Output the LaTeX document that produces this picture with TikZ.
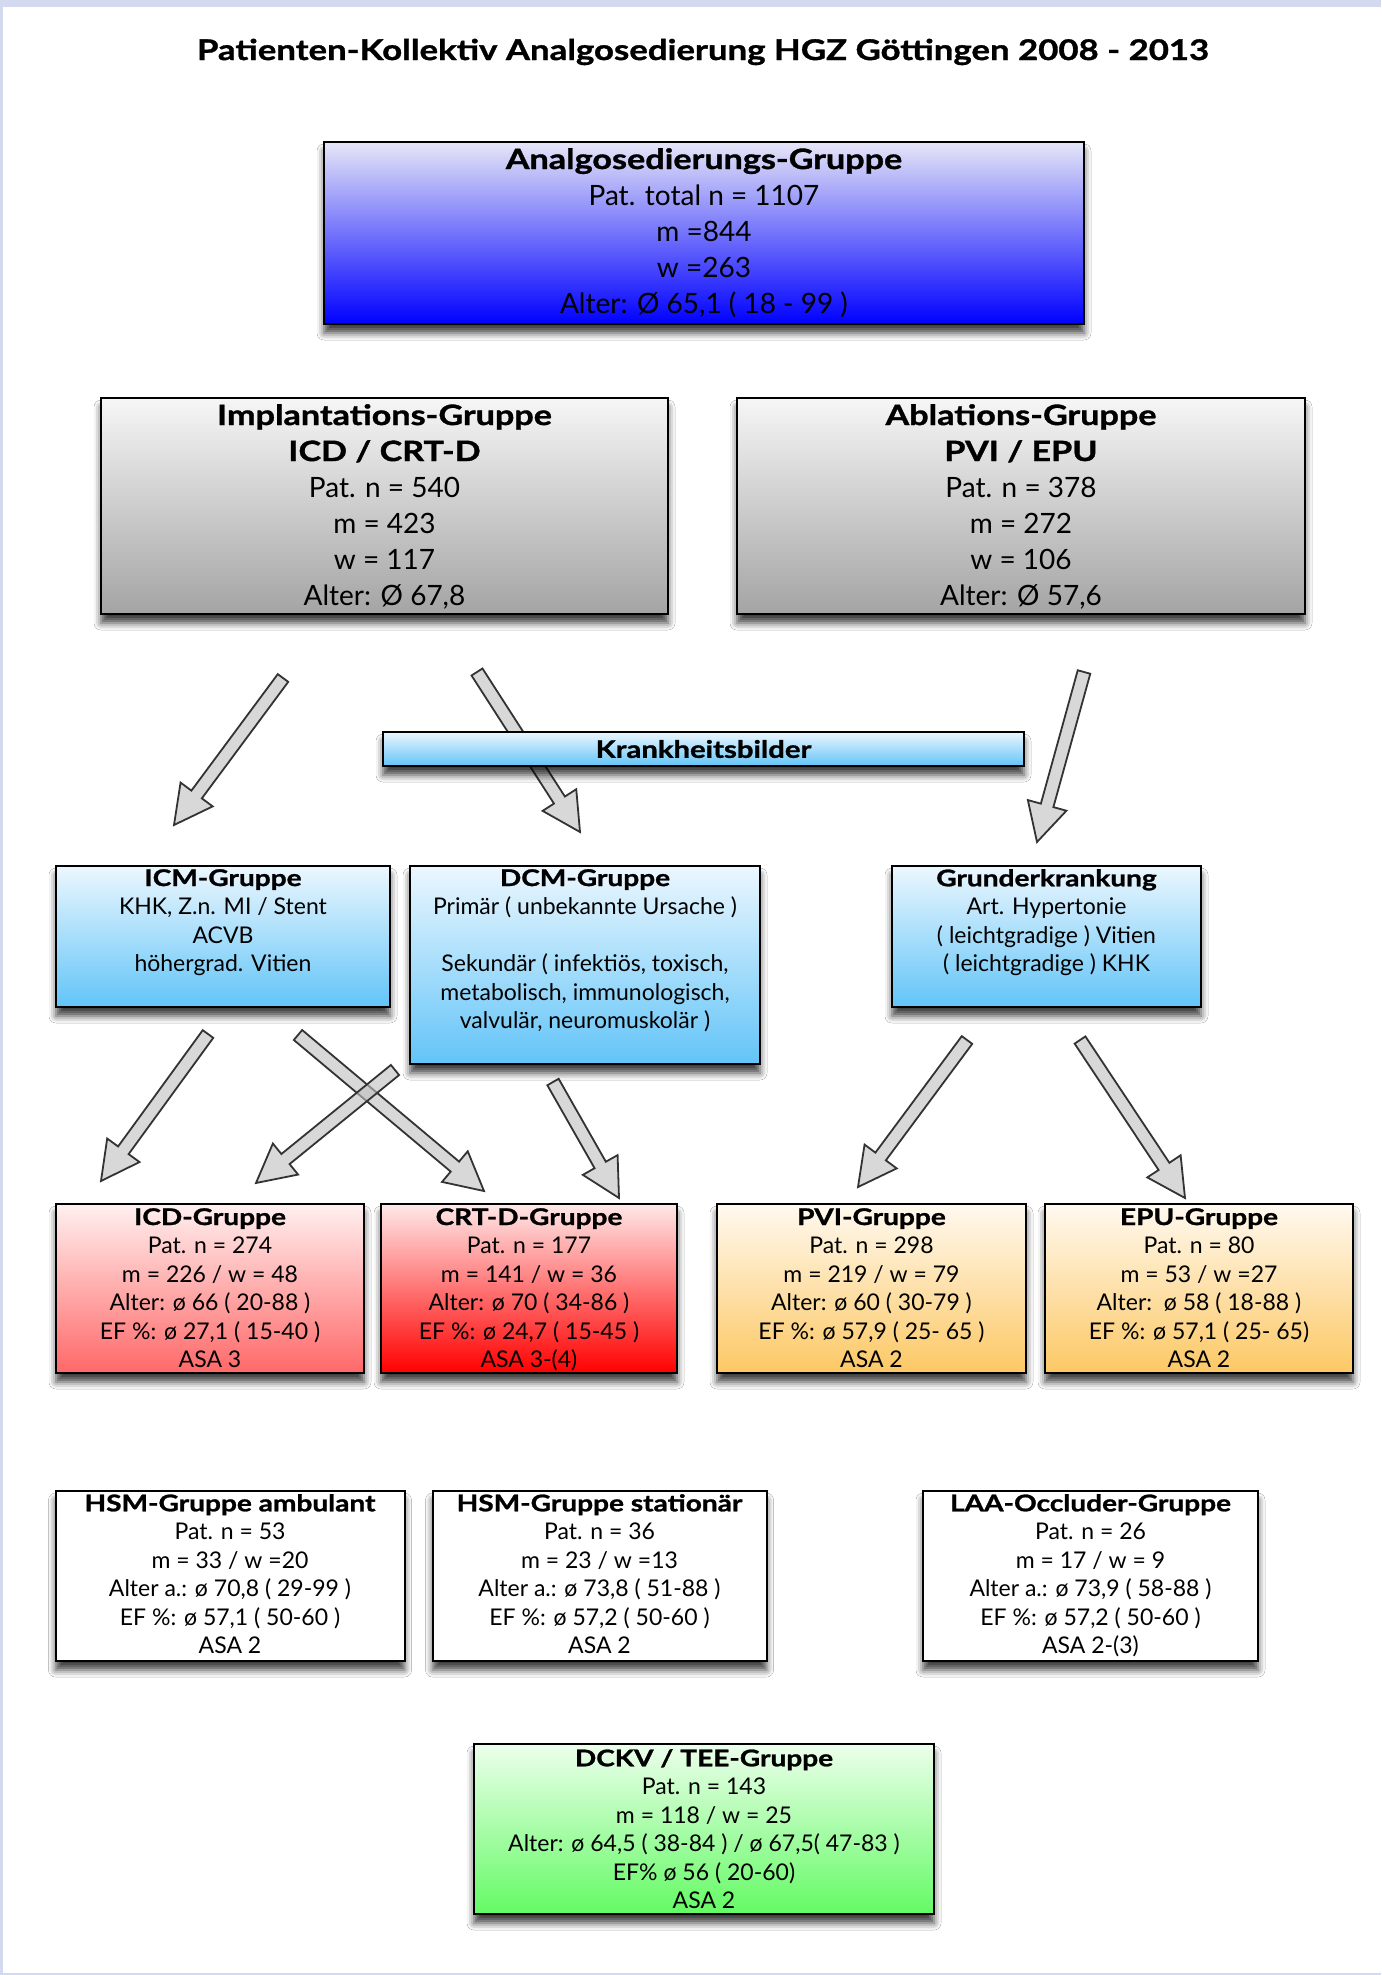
\documentclass[tikz,border=0pt]{standalone}
\usepackage{fontspec}
\setmainfont{Lato}
\newfontfamily\hb[FakeStretch=1.22, BoldFeatures={FakeBold=1.2}]{Lato}
\usetikzlibrary{calc,shadows.blur}

\definecolor{pageframe}{RGB}{211,217,239}
\definecolor{aTop}{RGB}{230,230,248}
\definecolor{aBot}{RGB}{0,0,255}
\definecolor{gTop}{RGB}{246,246,246}
\definecolor{gBot}{RGB}{164,164,164}
\definecolor{bTop}{RGB}{236,247,254}
\definecolor{bBot}{RGB}{98,196,248}
\definecolor{rTop}{RGB}{255,240,240}
\definecolor{rBot}{RGB}{255,104,104}
\definecolor{crTop}{RGB}{255,232,232}
\definecolor{crBot}{RGB}{255,0,0}
\definecolor{oTop}{RGB}{255,249,240}
\definecolor{oBot}{RGB}{252,200,100}
\definecolor{grTop}{RGB}{236,255,236}
\definecolor{grBot}{RGB}{100,250,100}

\newcommand{\bt}[1]{{\hb\bfseries #1}}
\newcommand{\blockarrow}[2]{%
  \coordinate (ahead) at ($(#2)!38pt!(#1)$);
  \draw[barrow] ($(#1)!6.5pt!90:(#2)$) -- ($(ahead)!6.5pt!90:(#2)$) -- ($(ahead)!20pt!90:(#2)$) -- (#2)
     -- ($(ahead)!20pt!-90:(#2)$) -- ($(ahead)!6.5pt!-90:(#2)$) -- ($(#1)!6.5pt!-90:(#2)$) -- cycle;}

\tikzset{
  box/.style={draw=black, line width=2pt, inner sep=0pt,
    blur shadow={shadow xshift=0pt, shadow yshift=-9pt, shadow blur radius=7pt, shadow opacity=75}},
  txt/.style={anchor=north, align=center, inner sep=0pt},
  big/.style={font=\fontsize{28}{36}\selectfont},
  small/.style={font=\fontsize{23}{28.5}\selectfont},
  barrow/.style={draw=black!80, line width=1.8pt, fill=black!25, fill opacity=0.6, line join=miter},
}

\begin{document}
\begin{tikzpicture}[x=1pt,y=-1pt]
\useasboundingbox (0,0) rectangle (1381,1975);
\fill[pageframe] (0,0) rectangle (1381,1975);
\fill[white] (3,7) rectangle (1381,1973);

% title
\node[inner sep=0pt, font=\hb\bfseries\fontsize{28.5}{34}\selectfont] (title) at (703,52)
  {Patienten-Kollektiv Analgosedierung HGZ Göttingen 2008 - 2013};

% arrow end points
\coordinate (a1s) at (283,678);  \coordinate (a1e) at (174,825);
\coordinate (a2s) at (477,672);  \coordinate (a2e) at (580,832);
\coordinate (a3s) at (1084,672); \coordinate (a3e) at (1037,842);
\coordinate (a4s) at (208,1034); \coordinate (a4e) at (101,1181);
\coordinate (a5s) at (298,1035); \coordinate (a5e) at (484,1191);
\coordinate (a6s) at (395,1070); \coordinate (a6e) at (256,1183);
\coordinate (a7s) at (553,1082); \coordinate (a7e) at (619,1198);
\coordinate (a8s) at (967,1040); \coordinate (a8e) at (858,1187);
\coordinate (a9s) at (1080,1040);\coordinate (a9e) at (1185,1198);
\blockarrow{a1s}{a1e}
\blockarrow{a2s}{a2e}
\blockarrow{a3s}{a3e}
\blockarrow{a4s}{a4e}
\blockarrow{a5s}{a5e}
\blockarrow{a6s}{a6e}
\blockarrow{a7s}{a7e}
\blockarrow{a8s}{a8e}
\blockarrow{a9s}{a9e}

% top box
\node[box, top color=aTop, bottom color=aBot, minimum width=760pt, minimum height=182pt] (A) at (704,233) {};
\node[txt, big] (tA) at ($(A.north)+(0,7)$)
  {\bt{Analgosedierungs-Gruppe}\\Pat. total n = 1107\\m =844\\w =263\\Alter: Ø 65,1 ( 18 - 99 )};

% second row
\node[box, top color=gTop, bottom color=gBot, minimum width=567pt, minimum height=216pt] (impl) at (384.5,506) {};
\node[txt, big] (timpl) at ($(impl.north)+(0,7)$)
  {\bt{Implantations-Gruppe}\\\bt{ICD / CRT-D}\\Pat. n = 540\\m = 423\\w = 117\\Alter: Ø 67,8};
\node[box, top color=gTop, bottom color=gBot, minimum width=568pt, minimum height=216pt] (abl) at (1021,506) {};
\node[txt, big] (tabl) at ($(abl.north)+(0,7)$)
  {\bt{Ablations-Gruppe}\\\bt{PVI / EPU}\\Pat. n = 378\\m = 272\\w = 106\\Alter: Ø 57,6};

% Krankheitsbilder bar
\node[box, top color=bTop, bottom color=bBot, minimum width=641pt, minimum height=34pt,
      font=\hb\bfseries\fontsize{24}{28}\selectfont] (kb) at (703.5,749) {Krankheitsbilder};

% disease boxes
\node[box, top color=bTop, bottom color=bBot, minimum width=334pt, minimum height=141pt] (icm) at (223,936.5) {};
\node[txt, small] (ticm) at ($(icm.north)+(0,4)$)
  {\bt{ICM-Gruppe}\\KHK, Z.n. MI / Stent\\ACVB\\höhergrad. Vitien};
\node[box, top color=bTop, bottom color=bBot, minimum width=350pt, minimum height=198pt] (dcm) at (585,965) {};
\node[txt, small] (tdcm) at ($(dcm.north)+(0,4)$)
  {\bt{DCM-Gruppe}\\Primär ( unbekannte Ursache )\\\mbox{}\\Sekundär ( infektiös, toxisch,\\metabolisch, immunologisch,\\valvulär, neuromuskolär )};
\node[box, top color=bTop, bottom color=bBot, minimum width=309pt, minimum height=141pt] (grund) at (1046.5,936.5) {};
\node[txt, small] (tgrund) at ($(grund.north)+(0,4)$)
  {\bt{Grunderkrankung}\\Art. Hypertonie\\( leichtgradige ) Vitien\\( leichtgradige ) KHK};

% device / procedure groups
\node[box, top color=rTop, bottom color=rBot, minimum width=308pt, minimum height=169pt] (icd) at (210,1288.5) {};
\node[txt, small] (ticd) at ($(icd.north)+(0,5)$)
  {\bt{ICD-Gruppe}\\Pat. n = 274\\m = 226 / w = 48\\Alter: ø 66 ( 20-88 )\\EF \%: ø 27,1 ( 15-40 )\\ASA 3};
\node[box, top color=crTop, bottom color=crBot, minimum width=296pt, minimum height=169pt] (crt) at (529,1288.5) {};
\node[txt, small] (tcrt) at ($(crt.north)+(0,5)$)
  {\bt{CRT-D-Gruppe}\\Pat. n = 177\\m = 141 / w = 36\\Alter: ø 70 ( 34-86 )\\EF \%: ø 24,7 ( 15-45 )\\ASA 3-(4)};
\node[box, top color=oTop, bottom color=oBot, minimum width=309pt, minimum height=169pt] (pvi) at (871.5,1288.5) {};
\node[txt, small] (tpvi) at ($(pvi.north)+(0,5)$)
  {\bt{PVI-Gruppe}\\Pat. n = 298\\m = 219 / w = 79\\Alter: ø 60 ( 30-79 )\\EF \%: ø 57,9 ( 25- 65 )\\ASA 2};
\node[box, top color=oTop, bottom color=oBot, minimum width=308pt, minimum height=169pt] (epu) at (1199,1288.5) {};
\node[txt, small] (tepu) at ($(epu.north)+(0,5)$)
  {\bt{EPU-Gruppe}\\Pat. n = 80\\m = 53 / w =27\\Alter:\ \ ø 58 ( 18-88 )\\EF \%: ø 57,1 ( 25- 65)\\ASA 2};

% white boxes
\node[box, fill=white, minimum width=349pt, minimum height=170pt] (hsma) at (230,1576) {};
\node[txt, small] (thsma) at ($(hsma.north)+(0,4)$)
  {\bt{HSM-Gruppe ambulant}\\Pat. n = 53\\m = 33 / w =20\\Alter a.: ø 70,8 ( 29-99 )\\EF \%: ø 57,1 ( 50-60 )\\ASA 2};
\node[box, fill=white, minimum width=334pt, minimum height=170pt] (hsms) at (599.5,1576) {};
\node[txt, small] (thsms) at ($(hsms.north)+(0,4)$)
  {\bt{HSM-Gruppe stationär}\\Pat. n = 36\\m = 23 / w =13\\Alter a.: ø 73,8 ( 51-88 )\\EF \%: ø 57,2 ( 50-60 )\\ASA 2};
\node[box, fill=white, minimum width=335pt, minimum height=170pt] (laa) at (1090.5,1576) {};
\node[txt, small] (tlaa) at ($(laa.north)+(0,4)$)
  {\bt{LAA-Occluder-Gruppe}\\Pat. n = 26\\m = 17 / w = 9\\Alter a.: ø 73,9 ( 58-88 )\\EF \%: ø 57,2 ( 50-60 )\\ASA 2-(3)};

% DCKV
\node[box, top color=grTop, bottom color=grBot, minimum width=460pt, minimum height=170pt] (dckv) at (704,1829) {};
\node[txt, small] (tdckv) at ($(dckv.north)+(0,6)$)
  {\bt{DCKV / TEE-Gruppe}\\Pat. n = 143\\m = 118 / w = 25\\Alter: ø 64,5 ( 38-84 ) / ø 67,5( 47-83 )\\EF\% ø 56 ( 20-60)\\ASA 2};
\end{tikzpicture}
\end{document}
